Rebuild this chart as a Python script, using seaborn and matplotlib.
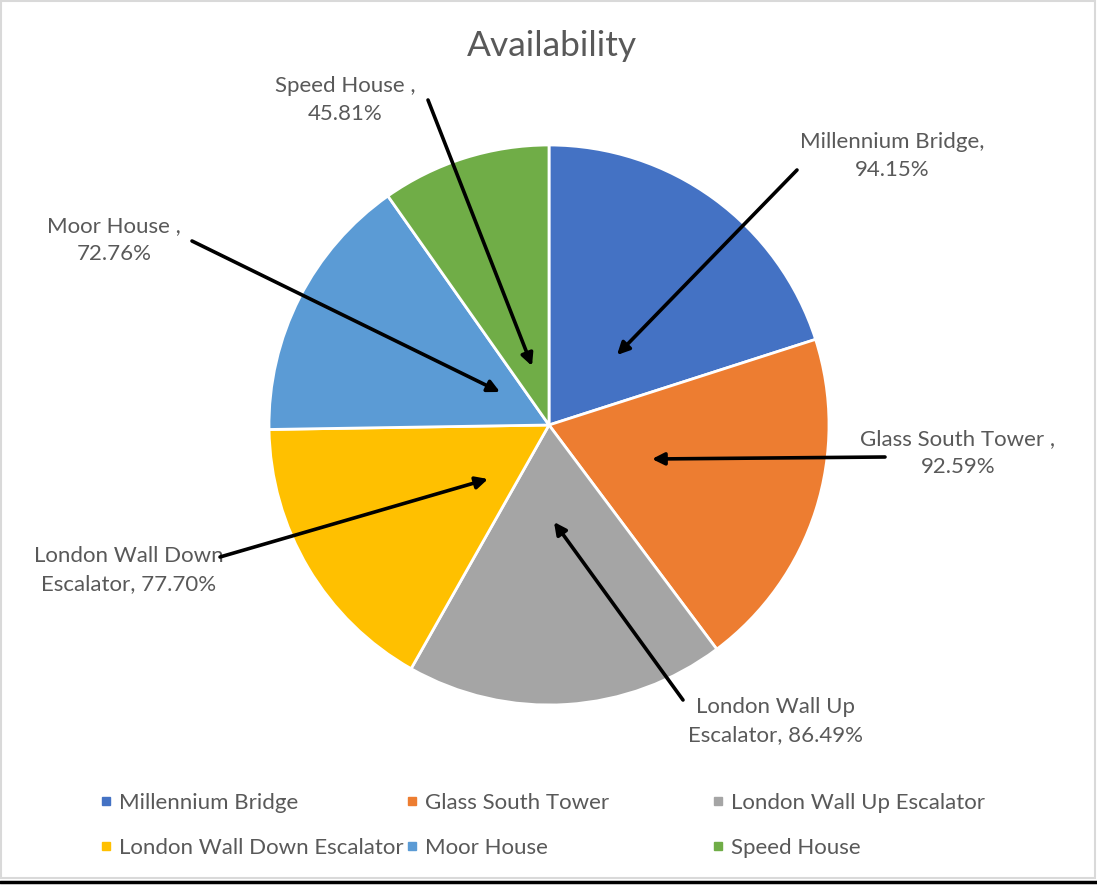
import matplotlib
matplotlib.use("Agg")
import matplotlib.pyplot as plt
from matplotlib.lines import Line2D
from matplotlib.patches import Rectangle
import seaborn as sns

# data
sites = ['Millennium Bridge', 'Glass South Tower', 'London Wall Up Escalator',
         'London Wall Down Escalator', 'Moor House', 'Speed House']
availability = [94.15, 92.59, 86.49, 77.70, 72.76, 45.81]
label_texts = ['Millennium Bridge,\n94.15%', 'Glass South Tower ,\n92.59%',
               'London Wall Up\nEscalator, 86.49%', 'London Wall Down\nEscalator, 77.70%',
               'Moor House ,\n72.76%', 'Speed House ,\n45.81%']
colors = ['#4472C4', '#ED7D31', '#A5A5A5', '#FFC000', '#5B9BD5', '#70AD47']

sns.set_theme(style='white')
plt.rcParams['font.family'] = ['Lato', 'DejaVu Sans']
palette = sns.color_palette(colors)

W, H = 1097, 885
grey = '#595959'

def px(x, y):
    # pixel position (from top-left) -> data coords
    return (x, H - y)

fig = plt.figure(figsize=(W / 100, H / 100), dpi=100)
ax = fig.add_axes([0, 0, 1, 1])

ax.pie(availability, colors=palette, startangle=90, counterclock=False,
       center=px(549, 425), radius=280,
       wedgeprops=dict(edgecolor='white', linewidth=2))
ax.set_xlim(0, W)
ax.set_ylim(0, H)
ax.set_aspect('equal')
ax.axis('off')

# label text centres and arrow tail / head (pixels)
label_pos = [(892, 156), (958, 453), (776, 721), (129, 570), (114, 240), (345, 100)]
arrow_tail = [(797, 170), (885, 457), (683, 700), (220, 557), (192, 241), (428, 100)]
arrow_head = [(617, 355), (652, 459), (554, 522), (488, 479), (500, 392), (532, 366)]

for txt, lp, tl, hd in zip(label_texts, label_pos, arrow_tail, arrow_head):
    ax.text(*px(*lp), txt, ha='center', va='center', fontsize=16, color=grey,
            linespacing=1.5)
    ax.annotate('', xy=px(*hd), xytext=px(*tl),
                arrowprops=dict(arrowstyle='-|>', color='black', lw=2.6,
                                mutation_scale=18, shrinkA=0, shrinkB=0))

ax.text(*px(552, 46), 'Availability', ha='center', va='center', fontsize=25.5, color=grey)

# legend: three columns of two rows (equal column widths like the original)
col_x = [100, 406, 712]
for c in range(3):
    idx = [c, c + 3]
    handles = [Line2D([], [], marker='s', linestyle='', markersize=6,
                      color=palette[i]) for i in idx]
    fig.legend(handles, [sites[i] for i in idx], loc='upper left',
               bbox_to_anchor=(col_x[c] / W, 1 - 793 / H), bbox_transform=fig.transFigure,
               frameon=False, fontsize=16, labelcolor=grey, handlelength=0.5,
               handletextpad=0.36, borderpad=0, borderaxespad=0, labelspacing=1.12)

# chart border
ax.add_patch(Rectangle(px(1, 878), 1094, 877, fill=False, edgecolor='#D9D9D9', lw=1.5,
                       clip_on=False))
ax.plot([0, W], [H - 882, H - 882], color='black', lw=2.5, clip_on=False)

fig.savefig('out.png', dpi=100)
